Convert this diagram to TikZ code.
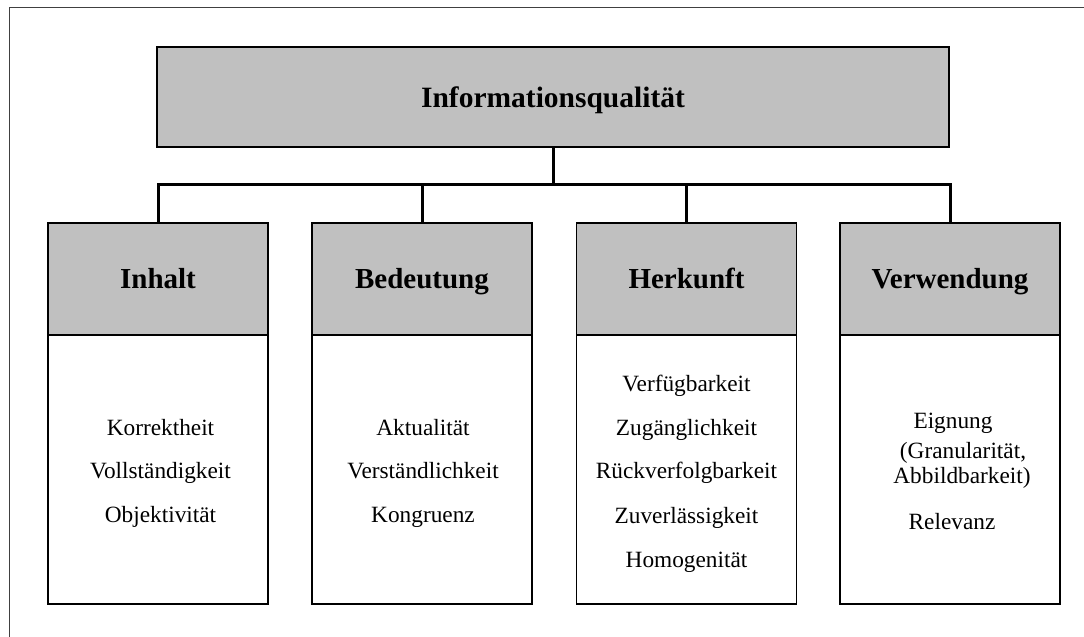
\documentclass[tikz,border=0pt]{standalone}
\usepackage{fontspec}
\setmainfont{Liberation Serif}
\definecolor{boxgray}{HTML}{C0C0C0}
\definecolor{framegray}{HTML}{404040}
\begin{document}
\begin{tikzpicture}[x=1pt,y=-1pt,
  box/.style={draw=black, line width=1.5pt, rectangle, inner sep=0pt},
  topbox/.style={box, fill=boxgray, minimum width=792pt, minimum height=100pt,
    font=\fontsize{29.5}{35}\selectfont\bfseries, text height=20pt, text depth=0pt},
  headbox/.style={box, fill=boxgray, minimum width=220pt, minimum height=112pt,
    font=\fontsize{29}{35}\selectfont\bfseries, text height=19pt, text depth=0pt},
  bodybox/.style={box, fill=white, minimum width=220pt, minimum height=269pt},
  item/.style={anchor=base, inner sep=0pt, font=\fontsize{23.3}{28}\selectfont},
  bus/.style={line width=3pt, line join=miter}]
\useasboundingbox (0,0) rectangle (1084,637);
\clip (0,0) rectangle (1084,637);
\fill[white] (0,0) rectangle (1084,637);

% outer frame
\draw[framegray, line width=1pt] (9,7) rectangle (1110,670);

% root
\node[topbox] (root) at (553,97) {Informationsqualität};

% category columns
\node[bodybox] (bInhalt) at (158,469.5) {};
\node[bodybox] (bBed)    at (422,469.5) {};
\node[bodybox] (bHerk)   at (686.5,469.5) {};
\node[bodybox] (bVerw)   at (950,469.5) {};

\node[headbox] (hInhalt) at (158,279) {Inhalt};
\node[headbox] (hBed)    at (422,279) {Bedeutung};
\node[headbox] (hHerk)   at (686.5,279) {Herkunft};
\node[headbox] (hVerw)   at (950,279) {Verwendung};

% tree connectors
\coordinate (busy) at (0,184);
\draw[bus] (root.south) -- (root.south |- busy);
\draw[bus] (hInhalt.north) -- (hInhalt.north |- busy) -- (hVerw.north |- busy) -- (hVerw.north);
\draw[bus] (hBed.north) -- (hBed.north |- busy);
\draw[bus] (hHerk.north) -- (hHerk.north |- busy);

% criteria
\node[item] (i1) at (160.5,435) {Korrektheit};
\node[item] (i2) at (160.5,478) {Vollständigkeit};
\node[item] (i3) at (160.5,522) {Objektivität};

\node[item] (b1) at (423,435) {Aktualität};
\node[item] (b2) at (423,478) {Verständlichkeit};
\node[item] (b3) at (423,522) {Kongruenz};

\node[item] (h1) at (686.5,391) {Verfügbarkeit};
\node[item] (h2) at (686.5,435) {Zugänglichkeit};
\node[item] (h3) at (686.5,478) {Rückverfolgbarkeit};
\node[item] (h4) at (686.5,523) {Zuverlässigkeit};
\node[item] (h5) at (686.5,567) {Homogenität};

\node[item] (v1) at (953,428) {Eignung};
\node[item] (v2) at (963,458) {(Granularität,};
\node[item] (v3) at (962,483) {Abbildbarkeit)};
\node[item] (v4) at (952,529) {Relevanz};
\end{tikzpicture}
\end{document}
